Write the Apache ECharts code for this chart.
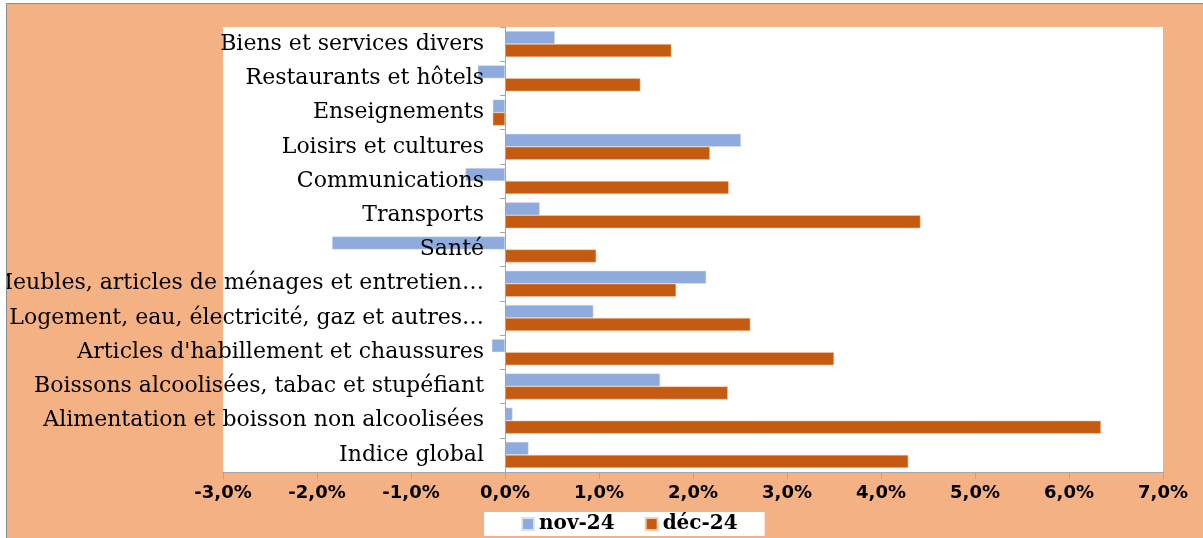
<!DOCTYPE html>
<html>
<head>
<meta charset="utf-8">
<script src="https://cdn.jsdelivr.net/npm/echarts@6/dist/echarts.min.js"></script>
<style>
  html, body { margin: 0; padding: 0; background: #ffffff; }
  #frame {
    position: absolute; left: 6px; top: 3px; width: 1197px; height: 535px;
    background: #f4b183; border-left: 1px solid #8c8c8c; border-top: 1px solid #8c8c8c;
  }
  #chart { width: 1196px; height: 534px; }
</style>
</head>
<body>
<div id="frame"><div id="chart"></div></div>
<script>
// catégories (de bas en haut)
const categories = [
  'Indice global',
  'Alimentation et boisson non alcoolisées',
  'Boissons alcoolisées, tabac et stupéfiant',
  "Articles d'habillement et chaussures",
  'Logement, eau, électricité, gaz et autres…',
  'Meubles, articles de ménages et entretien…',
  'Santé',
  'Transports',
  'Communications',
  'Loisirs et cultures',
  'Enseignements',
  'Restaurants et hôtels',
  'Biens et services divers'
]
const seriesNames = ['nov-24', 'déc-24']
const nov24 = [0.25, 0.08, 1.65, -0.14, 0.94, 2.14, -1.84, 0.37, -0.42, 2.51, -0.13, -0.29, 0.53]
const dec24 = [4.29, 6.34, 2.37, 3.50, 2.61, 1.82, 0.97, 4.42, 2.38, 2.18, -0.13, 1.44, 1.77]

const chart = echarts.init(document.getElementById('chart'))
chart.setOption({
  animation: false,
  grid: {
    left: 216, right: 40, top: 23, bottom: 66,
    outerBoundsMode: 'none',
    containLabel: false,
    show: true, backgroundColor: '#ffffff', borderWidth: 0
  },
  legend: {
    data: seriesNames,
    top: 508,
    left: 477,
    backgroundColor: '#ffffff',
    padding: [2, 27, 2, 37],
    itemWidth: 12,
    itemHeight: 12,
    itemGap: 30,
    icon: 'rect',
    textStyle: { fontFamily: 'DejaVu Serif', fontWeight: 'bold', fontSize: 20, color: '#000' }
  },
  xAxis: {
    type: 'value',
    min: -3,
    max: 7,
    interval: 1,
    splitLine: { show: false },
    axisLine: { show: true, onZero: false, lineStyle: { color: '#a6a6a6' } },
    axisTick: { show: true, length: 7, lineStyle: { color: '#a6a6a6' } },
    axisLabel: {
      margin: 12,
      fontFamily: 'DejaVu Sans',
      fontWeight: 'bold',
      fontSize: 18,
      color: '#000',
      formatter: v => v.toFixed(1).replace('.', ',') + '%'
    }
  },
  yAxis: {
    type: 'category',
    data: categories,
    z: 5,
    axisLine: { show: true, onZero: true, lineStyle: { color: '#a6a6a6' } },
    axisTick: { show: true, length: 5, lineStyle: { color: '#a6a6a6' } },
    axisLabel: {
      // étiquettes alignées à droite juste avant l'axe du zéro
      margin: -261,
      align: 'right',
      fontFamily: 'DejaVu Serif',
      fontSize: 22,
      color: '#000',
      overflow: 'none'
    }
  },
  series: [
    {
      name: seriesNames[0],
      type: 'bar',
      data: nov24,
      barGap: '0%',
      barCategoryGap: '24%',
      itemStyle: { color: '#8faadc', borderColor: '#dbe3f3', borderWidth: 0.5 }
    },
    {
      name: seriesNames[1],
      type: 'bar',
      data: dec24,
      barGap: '0%',
      barCategoryGap: '24%',
      itemStyle: { color: '#c55a11', borderColor: '#f2cdb5', borderWidth: 0.5 }
    }
  ]
})
</script>
</body>
</html>
